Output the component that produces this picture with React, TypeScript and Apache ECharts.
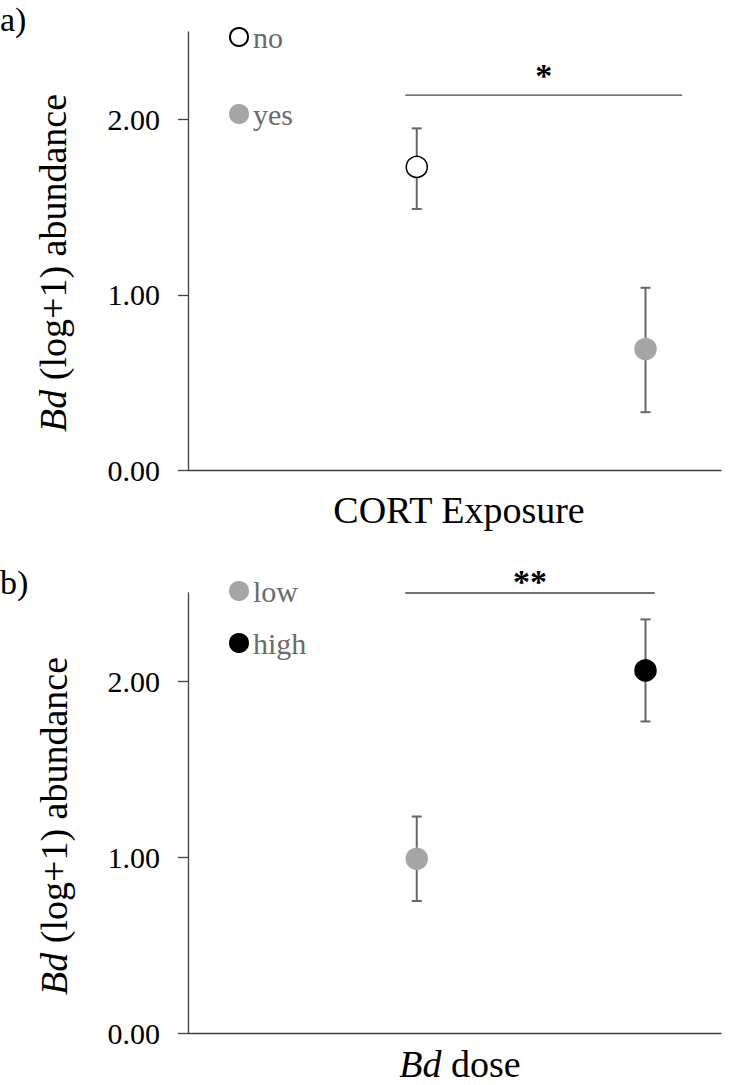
import React, { useEffect, useRef } from "react";
import * as echarts from "echarts";

const FONT = "'Liberation Serif', 'Times New Roman', serif";

// Panel a) CORT exposure
const groupsA = ["no", "yes"];
const xPosA = [1, 2];
const meanA = [1.73, 0.69];
const lowA = [1.49, 0.33];
const highA = [1.95, 1.04];
const fillA = ["#ffffff", "#a6a6a6"];
const borderA = ["#000000", "#a6a6a6"];
const sigA = { x1: 0.95, x2: 2.16, y: 2.14, label: "*" };

// Panel b) Bd dose
const groupsB = ["low", "high"];
const xPosB = [1, 2];
const meanB = [0.99, 2.06];
const lowB = [0.75, 1.77];
const highB = [1.23, 2.35];
const fillB = ["#a6a6a6", "#000000"];
const borderB = ["#a6a6a6", "#000000"];
const sigB = { x1: 0.95, x2: 2.04, y: 2.5, label: "**" };

const yTicks = [0, 1, 2];
const yMax = 2.5;
const xMax = 2.33;

const AXIS_COLOR = "#404040";
const ERR_COLOR = "#666666";

function errRender(params: any, api: any) {
  const x = api.value(0);
  const lo = api.value(1);
  const hi = api.value(2);
  const t = api.coord([x, hi]);
  const b = api.coord([x, lo]);
  const cap = 5;
  const style = { stroke: ERR_COLOR, lineWidth: 2 };
  return {
    type: "group",
    children: [
      { type: "line", shape: { x1: t[0], y1: t[1], x2: b[0], y2: b[1] }, style },
      { type: "line", shape: { x1: t[0] - cap, y1: t[1], x2: t[0] + cap, y2: t[1] }, style },
      { type: "line", shape: { x1: b[0] - cap, y1: b[1], x2: b[0] + cap, y2: b[1] }, style },
    ],
  };
}

function sigRender(labelGap: number) {
  return (params: any, api: any) => {
    const x1 = api.value(0);
    const x2 = api.value(1);
    const y = api.value(2);
    const p1 = api.coord([x1, y]);
    const p2 = api.coord([x2, y]);
    return {
      type: "group",
      children: [
        {
          type: "line",
          shape: { x1: p1[0], y1: p1[1], x2: p2[0], y2: p2[1] },
          style: { stroke: AXIS_COLOR, lineWidth: 1.3 },
        },
        {
          type: "text",
          x: (p1[0] + p2[0]) / 2,
          y: p1[1] - labelGap,
          style: {
            text: api.value(3),
            fontFamily: FONT,
            fontSize: 34,
            fontWeight: "bold",
            fill: "#000",
            align: "center",
            verticalAlign: "middle",
          },
        },
      ],
    };
  };
}

function makeScatter(name: string, x: number, y: number, fill: string, border: string, idx: number) {
  return {
    type: "scatter",
    name,
    xAxisIndex: idx,
    yAxisIndex: idx,
    data: [[x, y]],
    symbol: "circle",
    symbolSize: 21,
    z: 5,
    itemStyle: { color: fill, borderColor: border, borderWidth: 1.5, opacity: 1 },
  };
}

export default function App() {
  const ref = useRef<HTMLDivElement>(null);

  useEffect(() => {
    if (!ref.current) return;
    const chart = echarts.init(ref.current, undefined, { renderer: "svg" });

    const xAxisBase = (gridIndex: number) => ({
      type: "value",
      gridIndex,
      min: 0,
      max: xMax,
      axisLine: { show: true, onZero: false, lineStyle: { color: AXIS_COLOR, width: 1.3 } },
      axisTick: { show: false },
      axisLabel: { show: false },
      splitLine: { show: false },
    });
    const yAxisBase = (gridIndex: number) => ({
      type: "value",
      gridIndex,
      min: 0,
      max: yMax,
      interval: 1,
      axisLine: { show: true, lineStyle: { color: AXIS_COLOR, width: 1.3 } },
      axisTick: {
        show: true,
        inside: false,
        length: 10,
        customValues: yTicks,
        lineStyle: { color: AXIS_COLOR, width: 1.3 },
      },
      axisLabel: {
        show: true,
        customValues: yTicks,
        margin: 28,
        fontFamily: FONT,
        fontSize: 30,
        color: "#000",
        formatter: (v: number) => v.toFixed(2),
      },
      splitLine: { show: false },
    });

    const legendBase = {
      orient: "vertical",
      left: 224,
      icon: "circle",
      itemWidth: 18,
      itemHeight: 18,
      textStyle: { fontFamily: FONT, fontSize: 30, color: "#6b6b6b", lineHeight: 30 },
      selectedMode: false,
    };

    const titleRich = { i: { fontFamily: FONT, fontSize: 38, fontStyle: "italic", fill: "#000" } };

    const option: any = {
      animation: false,
      backgroundColor: "#ffffff",
      grid: [
        { left: 188, top: 32, width: 533, height: 438 },
        { left: 188, top: 593, width: 533, height: 440 },
      ],
      xAxis: [xAxisBase(0), xAxisBase(1)],
      yAxis: [yAxisBase(0), yAxisBase(1)],
      legend: [
        { ...legendBase, data: groupsA, top: 17, itemGap: 47 },
        { ...legendBase, data: groupsB, top: 571, itemGap: 22 },
      ],
      series: [
        {
          type: "custom",
          name: "errA",
          xAxisIndex: 0,
          yAxisIndex: 0,
          renderItem: errRender,
          data: xPosA.map((x, i) => [x, lowA[i], highA[i]]),
          z: 2,
        },
        {
          type: "custom",
          name: "errB",
          xAxisIndex: 1,
          yAxisIndex: 1,
          renderItem: errRender,
          data: xPosB.map((x, i) => [x, lowB[i], highB[i]]),
          z: 2,
        },
        {
          type: "custom",
          name: "sigA",
          xAxisIndex: 0,
          yAxisIndex: 0,
          renderItem: sigRender(20),
          data: [[sigA.x1, sigA.x2, sigA.y, sigA.label]],
          dimensions: ["x1", "x2", "y", { name: "label", type: "ordinal" }],
          z: 2,
        },
        {
          type: "custom",
          name: "sigB",
          xAxisIndex: 1,
          yAxisIndex: 1,
          renderItem: sigRender(12),
          data: [[sigB.x1, sigB.x2, sigB.y, sigB.label]],
          dimensions: ["x1", "x2", "y", { name: "label", type: "ordinal" }],
          z: 2,
        },
        ...groupsA.map((g, i) => makeScatter(g, xPosA[i], meanA[i], fillA[i], borderA[i], 0)),
        ...groupsB.map((g, i) => makeScatter(g, xPosB[i], meanB[i], fillB[i], borderB[i], 1)),
      ],
      graphic: [
        {
          type: "text",
          x: 0,
          y: 19,
          style: { text: "a)", fontFamily: FONT, fontSize: 34, fill: "#000", verticalAlign: "middle" },
        },
        {
          type: "text",
          x: 0,
          y: 582,
          style: { text: "b)", fontFamily: FONT, fontSize: 34, fill: "#000", verticalAlign: "middle" },
        },
        {
          type: "text",
          x: 53,
          y: 263,
          rotation: Math.PI / 2,
          style: {
            text: "{i|Bd} (log+1) abundance",
            fontFamily: FONT,
            fontSize: 38,
            fill: "#000",
            align: "center",
            verticalAlign: "middle",
            rich: titleRich,
          },
        },
        {
          type: "text",
          x: 54,
          y: 826,
          rotation: Math.PI / 2,
          style: {
            text: "{i|Bd} (log+1) abundance",
            fontFamily: FONT,
            fontSize: 38,
            fill: "#000",
            align: "center",
            verticalAlign: "middle",
            rich: titleRich,
          },
        },
        {
          type: "text",
          x: 459,
          y: 510,
          style: {
            text: "CORT Exposure",
            fontFamily: FONT,
            fontSize: 38,
            fill: "#000",
            align: "center",
            verticalAlign: "middle",
          },
        },
        {
          type: "text",
          x: 460,
          y: 1064,
          style: {
            text: "{i|Bd} dose",
            fontFamily: FONT,
            fontSize: 38,
            fill: "#000",
            align: "center",
            verticalAlign: "middle",
            rich: titleRich,
          },
        },
      ],
    };

    chart.setOption(option);
    return () => chart.dispose();
  }, []);

  return (
    <div
      ref={ref}
      style={{ position: "absolute", left: 0, top: 0, width: 733, height: 1085, background: "#fff" }}
    />
  );
}
